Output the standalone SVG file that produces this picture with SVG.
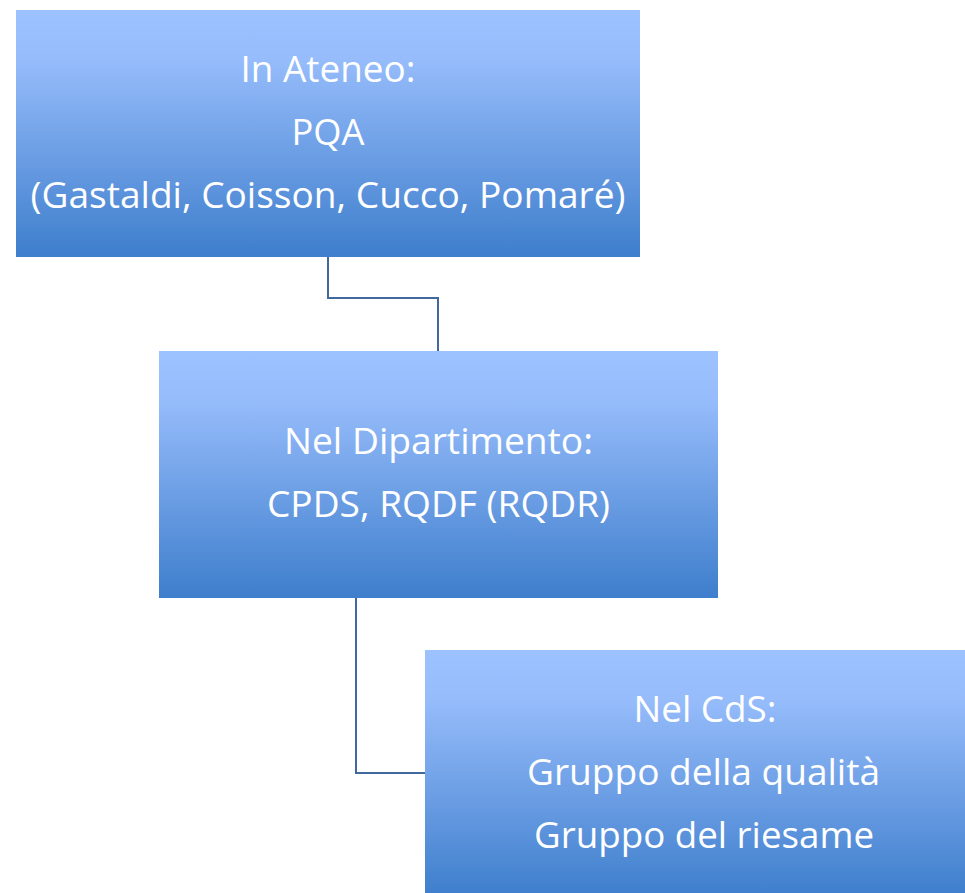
<svg xmlns="http://www.w3.org/2000/svg" width="965" height="893" viewBox="0 0 965 893">
<defs>
<linearGradient id="g" x1="0" y1="0" x2="0" y2="1">
<stop offset="0" stop-color="#9cc2ff"/>
<stop offset="0.2" stop-color="#96bcfb"/>
<stop offset="1" stop-color="#3e7ecc"/>
</linearGradient>
<style>
.box{fill:url(#g);}
.t{font-family:"Open Sans","Liberation Sans",sans-serif;font-size:37px;fill:#ffffff;text-anchor:middle;}
.c{fill:none;stroke:#41699e;stroke-width:2;}
</style>
</defs>
<rect width="965" height="893" fill="#ffffff"/>
<g id="connectors">
<path class="c" d="M328,257 V298 H438 V351"/>
<path class="c" d="M356,598 V773 H425"/>
</g>
<g id="ateneo">
<rect class="box" x="16" y="10" width="624" height="247"/>
<text class="t" x="328" y="82" textLength="175" lengthAdjust="spacingAndGlyphs">In Ateneo:</text>
<text class="t" x="328" y="145" textLength="73" lengthAdjust="spacingAndGlyphs">PQA</text>
<text class="t" x="328" y="208" textLength="595" lengthAdjust="spacingAndGlyphs">(Gastaldi, Coisson, Cucco, Pomaré)</text>
</g>
<g id="dipartimento">
<rect class="box" x="159" y="351" width="559" height="247"/>
<text class="t" x="438.5" y="454" textLength="309" lengthAdjust="spacingAndGlyphs">Nel Dipartimento:</text>
<text class="t" x="438.5" y="517" textLength="343" lengthAdjust="spacingAndGlyphs">CPDS, RQDF (RQDR)</text>
</g>
<g id="cds">
<rect class="box" x="425" y="650" width="560" height="247"/>
<text class="t" x="705" y="722" textLength="143" lengthAdjust="spacingAndGlyphs">Nel CdS:</text>
<text class="t" x="703.5" y="785" textLength="353" lengthAdjust="spacingAndGlyphs">Gruppo della qualità</text>
<text class="t" x="704" y="848" textLength="340" lengthAdjust="spacingAndGlyphs">Gruppo del riesame</text>
</g>
</svg>
